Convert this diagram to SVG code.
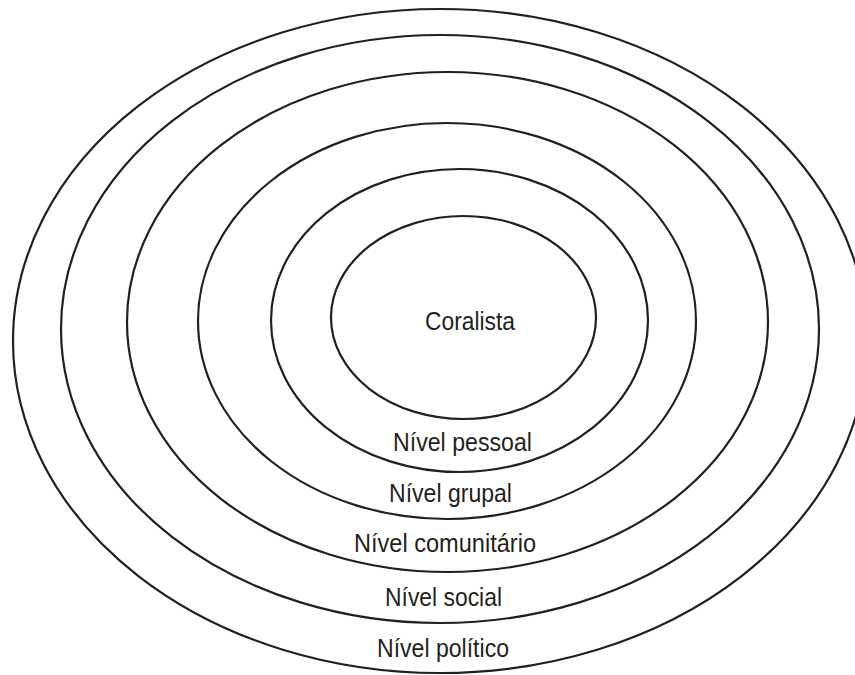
<svg xmlns="http://www.w3.org/2000/svg" width="855" height="675" viewBox="0 0 855 675">
<style>
.ring{fill:none;stroke:#231f20;stroke-width:2.2}
.lbl{font-family:"Liberation Sans","Arial",sans-serif;font-size:25px;fill:#231f20;text-anchor:middle}
</style>
<rect width="855" height="675" fill="#ffffff"/>
<g id="nivel-politico">
<ellipse class="ring" cx="440" cy="341" rx="427" ry="332"/>
<text class="lbl" x="443" y="657" textLength="132" lengthAdjust="spacingAndGlyphs">Nível político</text>
</g>
<g id="nivel-social">
<ellipse class="ring" cx="440" cy="329" rx="379" ry="294"/>
<text class="lbl" x="443.5" y="606" textLength="117" lengthAdjust="spacingAndGlyphs">Nível social</text>
</g>
<g id="nivel-comunitario">
<ellipse class="ring" cx="447.5" cy="322" rx="320.5" ry="250"/>
<text class="lbl" x="445" y="551.5" textLength="182" lengthAdjust="spacingAndGlyphs">Nível comunitário</text>
</g>
<g id="nivel-grupal">
<ellipse class="ring" cx="447" cy="321" rx="249" ry="198"/>
<text class="lbl" x="450.5" y="501.5" textLength="123" lengthAdjust="spacingAndGlyphs">Nível grupal</text>
</g>
<g id="nivel-pessoal">
<ellipse class="ring" cx="459.5" cy="320.5" rx="188.5" ry="151.5"/>
<text class="lbl" x="462.5" y="451" textLength="139" lengthAdjust="spacingAndGlyphs">Nível pessoal</text>
</g>
<g id="coralista">
<ellipse class="ring" cx="463.5" cy="317.5" rx="132.5" ry="101.5"/>
<text class="lbl" x="470" y="330" textLength="90" lengthAdjust="spacingAndGlyphs">Coralista</text>
</g>
<g id="connectors"/>
</svg>
